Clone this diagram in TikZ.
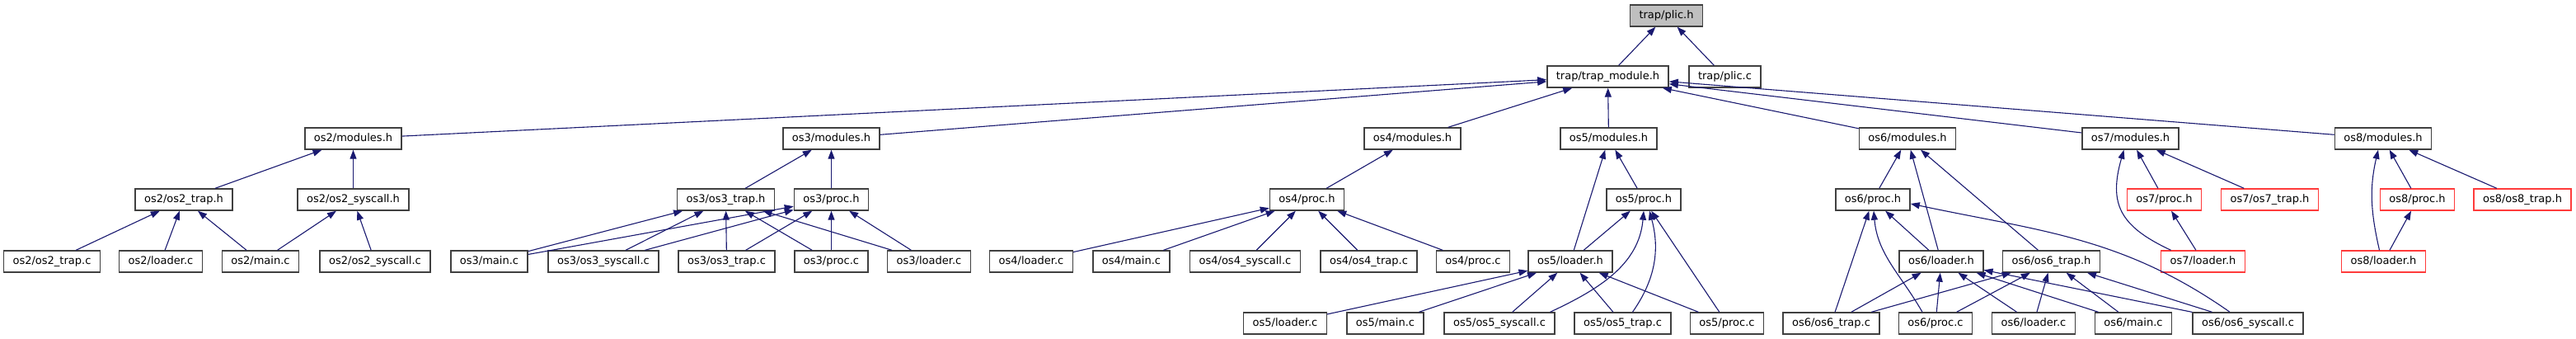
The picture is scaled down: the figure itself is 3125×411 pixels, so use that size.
\documentclass[tikz,border=0pt]{standalone}
\usepackage{fontspec}
\setmainfont{DejaVu Sans}
\usetikzlibrary{arrows.meta}
\definecolor{edgeblue}{HTML}{191970}
\definecolor{boxline}{HTML}{404040}
\definecolor{cutred}{HTML}{FF3B3B}
\begin{document}
\begin{tikzpicture}[x=1pt, y=1pt, font=\fontsize{13}{15}\selectfont,
  box/.style={draw=#1, fill=white, line width=1.4pt, minimum height=26pt, inner xsep=11pt,
  inner ysep=0pt, text height=10pt, text depth=2pt}, box/.default=boxline,
  arr/.style={-{Triangle[length=11pt,width=8pt]}, edgeblue, line width=1.1pt}]
\useasboundingbox[fill=white] (0,0) rectangle (3125,-411);
\node[box, fill=black!25] (plic) at (2021.5,-19) {trap/plic.h};
\node[box] (tmod) at (1950.5,-93) {trap/trap\_module.h};
\node[box] (plicc) at (2092.5,-93) {trap/plic.c};
\node[box] (mod2) at (428.5,-168) {os2/modules.h};
\node[box] (mod3) at (1008.5,-168) {os3/modules.h};
\node[box] (mod4) at (1713.5,-168) {os4/modules.h};
\node[box] (mod5) at (1951.5,-168) {os5/modules.h};
\node[box] (mod6) at (2314,-168) {os6/modules.h};
\node[box] (mod7) at (2584.5,-168) {os7/modules.h};
\node[box] (mod8) at (2891,-168) {os8/modules.h};
\node[box] (trap2h) at (223,-242) {os2/os2\_trap.h};
\node[box] (sys2h) at (428.5,-242) {os2/os2\_syscall.h};
\node[box] (trap3h) at (880.5,-242) {os3/os3\_trap.h};
\node[box] (proc3h) at (1008.5,-242) {os3/proc.h};
\node[box] (proc4h) at (1585.5,-242) {os4/proc.h};
\node[box] (proc5h) at (1994,-242) {os5/proc.h};
\node[box] (proc6h) at (2272,-242) {os6/proc.h};
\node[box=cutred] (proc7h) at (2625.5,-242) {os7/proc.h};
\node[box=cutred] (trap7h) at (2753.5,-242) {os7/os7\_trap.h};
\node[box=cutred] (proc8h) at (2932.5,-242) {os8/proc.h};
\node[box=cutred] (trap8h) at (3060,-242) {os8/os8\_trap.h};
\node[box] (trap2c) at (63,-317) {os2/os2\_trap.c};
\node[box] (load2c) at (195,-317) {os2/loader.c};
\node[box] (main2c) at (316,-317) {os2/main.c};
\node[box] (sys2c) at (455,-317) {os2/os2\_syscall.c};
\node[box] (main3c) at (593.5,-317) {os3/main.c};
\node[box] (sys3c) at (732,-317) {os3/os3\_syscall.c};
\node[box] (trap3c) at (881.5,-317) {os3/os3\_trap.c};
\node[box] (proc3c) at (1008.5,-317) {os3/proc.c};
\node[box] (load3c) at (1127,-317) {os3/loader.c};
\node[box] (load4c) at (1251,-317) {os4/loader.c};
\node[box] (main4c) at (1372.5,-317) {os4/main.c};
\node[box] (sys4c) at (1510.5,-317) {os4/os4\_syscall.c};
\node[box] (trap4c) at (1660.5,-317) {os4/os4\_trap.c};
\node[box] (proc4c) at (1787,-317) {os4/proc.c};
\node[box] (load5h) at (1905,-317) {os5/loader.h};
\node[box] (load6h) at (2355,-317) {os6/loader.h};
\node[box] (trap6h) at (2488.5,-317) {os6/os6\_trap.h};
\node[box=cutred] (load7h) at (2672.5,-317) {os7/loader.h};
\node[box=cutred] (load8h) at (2891.5,-317) {os8/loader.h};
\node[box] (load5c) at (1559,-392) {os5/loader.c};
\node[box] (main5c) at (1680.5,-392) {os5/main.c};
\node[box] (sys5c) at (1819,-392) {os5/os5\_syscall.c};
\node[box] (trap5c) at (1968.5,-392) {os5/os5\_trap.c};
\node[box] (proc5c) at (2095,-392) {os5/proc.c};
\node[box] (trap6c) at (2221.5,-392) {os6/os6\_trap.c};
\node[box] (proc6c) at (2348,-392) {os6/proc.c};
\node[box] (load6c) at (2467,-392) {os6/loader.c};
\node[box] (main6c) at (2588,-392) {os6/main.c};
\node[box] (sys6c) at (2727,-392) {os6/os6\_syscall.c};
\draw[arr] (tmod) -- (plic); \draw[arr] (plicc) -- (plic);
\draw[arr] (mod2) -- (tmod); \draw[arr] (mod3) -- (tmod); \draw[arr] (mod4) -- (tmod);
\draw[arr] (mod5) -- (tmod); \draw[arr] (mod6) -- (tmod); \draw[arr] (mod7) -- (tmod);
\draw[arr] (mod8) -- (tmod);
\draw[arr] (trap2h) -- (mod2); \draw[arr] (sys2h) -- (mod2);
\draw[arr] (trap2c) -- (trap2h); \draw[arr] (load2c) -- (trap2h); \draw[arr] (main2c) -- (trap2h);
\draw[arr] (main2c) -- (sys2h); \draw[arr] (sys2c) -- (sys2h);
\draw[arr] (trap3h) -- (mod3); \draw[arr] (proc3h) -- (mod3);
\draw[arr] (main3c) -- (trap3h); \draw[arr] (sys3c) -- (trap3h); \draw[arr] (trap3c) -- (trap3h);
\draw[arr] (proc3c) -- (trap3h); \draw[arr] (load3c) -- (trap3h);
\draw[arr] (main3c) -- (proc3h); \draw[arr] (sys3c) -- (proc3h); \draw[arr] (trap3c) -- (proc3h);
\draw[arr] (proc3c) -- (proc3h); \draw[arr] (load3c) -- (proc3h);
\draw[arr] (proc4h) -- (mod4);
\draw[arr] (load4c) -- (proc4h); \draw[arr] (main4c) -- (proc4h); \draw[arr] (sys4c) -- (proc4h);
\draw[arr] (trap4c) -- (proc4h); \draw[arr] (proc4c) -- (proc4h);
\draw[arr] (load5h) -- (mod5); \draw[arr] (proc5h) -- (mod5); \draw[arr] (load5h) -- (proc5h);
\draw[arr] (load5c) -- (load5h); \draw[arr] (main5c) -- (load5h); \draw[arr] (sys5c) -- (load5h);
\draw[arr] (trap5c) -- (load5h); \draw[arr] (proc5c) -- (load5h);
\draw[arr] ([xshift=-6pt]sys5c.north east) to[out=25,in=-95] (proc5h.south);
\draw[arr] ([xshift=12pt]trap5c.north) to[out=55,in=-75] ([xshift=7pt]proc5h.south);
\draw[arr] (proc5c) -- (proc5h);
\draw[arr] (proc6h) -- (mod6); \draw[arr] (load6h) -- (mod6); \draw[arr] (trap6h) -- (mod6);
\draw[arr] (load6h) -- (proc6h); \draw[arr] (trap6c) -- (proc6h);
\draw[arr] ([xshift=-16pt]proc6c.north) to[out=120,in=-85] ([xshift=1pt]proc6h.south);
\draw[arr] ([xshift=-22pt]sys6c.north) to[out=145,in=-12] ([yshift=-5pt]proc6h.east);
\draw[arr] (trap6c) -- (load6h); \draw[arr] (proc6c) -- (load6h); \draw[arr] (load6c) -- (load6h);
\draw[arr] (main6c) -- (load6h); \draw[arr] (sys6c) -- (load6h);
\draw[arr] (trap6c) -- (trap6h); \draw[arr] (proc6c) -- (trap6h); \draw[arr] (load6c) -- (trap6h);
\draw[arr] (main6c) -- (trap6h); \draw[arr] (sys6c) -- (trap6h);
\draw[arr] (proc7h) -- (mod7); \draw[arr] (trap7h) -- (mod7); \draw[arr] (load7h) -- (proc7h);
\draw[arr] ([xshift=-39pt]load7h.north) to[out=155,in=-106,looseness=1.3] ([xshift=-8pt]mod7.south);
\draw[arr] (proc8h) -- (mod8); \draw[arr] (trap8h) -- (mod8); \draw[arr] (load8h) -- (proc8h);
\draw[arr] ([xshift=-5pt]load8h.north) to[out=103,in=-103] ([xshift=-6pt]mod8.south);
\end{tikzpicture}
\end{document}
